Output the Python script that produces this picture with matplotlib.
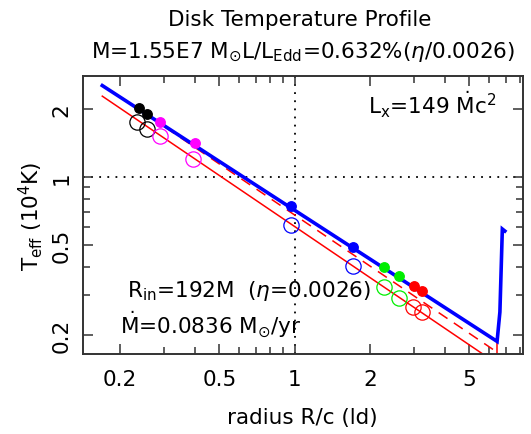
import numpy as np
import matplotlib
matplotlib.use("Agg")
import matplotlib.pyplot as plt
from matplotlib.ticker import FixedLocator, NullFormatter

# model curve (blue)
blue_r = [0.170, 1.0, 6.45, 6.62, 6.77, 6.93]
blue_t = [2.54, 0.713, 0.1875, 0.253, 0.589, 0.577]

# red reference lines
red_r = [0.170, 5.65]
red_t = [2.28, 0.165]
red_dash_r = [0.20, 6.45]
red_dash_t = [2.27, 0.168]
red_drop_r = [6.47, 6.47]
red_drop_t = [0.1875, 0.15]

# filled points on the blue curve and open circles below
pt_r = [0.239, 0.257, 0.290, 0.399, 0.966, 1.71, 2.27, 2.62, 3.01, 3.22]
pt_t = [2.03, 1.91, 1.76, 1.41, 0.746, 0.492, 0.401, 0.364, 0.330, 0.312]
open_r = [0.233, 0.257, 0.290, 0.393, 0.966, 1.71, 2.28, 2.62, 2.98, 3.22]
open_t = [1.76, 1.63, 1.52, 1.20, 0.615, 0.404, 0.327, 0.292, 0.265, 0.252]
pt_col = ["black", "black", "magenta", "magenta", "blue", "blue",
          "#00ee00", "#00ee00", "red", "red"]

xmaj = [0.2, 0.5, 1, 2, 5]
xmaj_lab = ["0.2", "0.5", "1", "2", "5"]
ymaj = [0.2, 0.5, 1, 2]
ymaj_lab = ["0.2", "0.5", "1", "2"]

plt.rcParams['font.family'] = ['DejaVu Sans']
plt.rcParams['mathtext.fontset'] = 'dejavusans'
fs = 15.5

fig = plt.figure(figsize=(5.31, 4.35), dpi=100)
ax = fig.add_axes([0.1557, 0.184, 0.829, 0.639])
ax.set_xscale('log')
ax.set_yscale('log')
ax.set_xlim(0.1419, 8.18)
ax.set_ylim(0.165, 2.80)

ax.axhline(1, color='black', lw=1.3, ls=(0, (1, 3.5)), zorder=1)
ax.axvline(1, color='black', lw=1.3, ls=(0, (1, 3.5)), zorder=1)

ax.plot(red_r, red_t, color='red', lw=1.1, zorder=2)
ax.plot(red_dash_r, red_dash_t, color='red', lw=1.1, ls=(0, (7, 5)), zorder=2)
ax.plot(red_drop_r, red_drop_t, color='red', lw=1.1, zorder=2)
ax.plot(blue_r, blue_t, color='blue', lw=2.6, zorder=3, solid_joinstyle='miter')

for r, t, c in zip(pt_r, pt_t, pt_col):
    ax.plot(r, t, 'o', color=c, ms=6.8, zorder=4)
for r, t, c in zip(open_r, open_t, pt_col):
    ax.plot(r, t, 'o', mfc='none', mec=c, mew=0.9, ms=11, zorder=4)

ax.xaxis.set_major_locator(FixedLocator(xmaj))
ax.set_xticklabels(xmaj_lab)
ax.xaxis.set_minor_locator(FixedLocator([0.3, 0.4, 0.6, 0.7, 0.8, 0.9, 3, 4, 6, 7, 8]))
ax.xaxis.set_minor_formatter(NullFormatter())
ax.yaxis.set_major_locator(FixedLocator(ymaj))
ax.set_yticklabels(ymaj_lab, rotation=90, va='center')
ax.yaxis.set_minor_locator(FixedLocator([0.3, 0.4, 0.6, 0.7, 0.8, 0.9]))
ax.yaxis.set_minor_formatter(NullFormatter())

ax.tick_params(which='both', direction='in', top=True, right=True,
               labelsize=fs, width=1.1, color='#333333')
ax.tick_params(which='major', length=7)
ax.tick_params(which='minor', length=5)
ax.tick_params(axis='x', pad=11)
ax.tick_params(axis='y', pad=8)
for s in ax.spines.values():
    s.set_linewidth(1.4)
    s.set_color('#333333')

ax.set_xlabel('radius R/c (ld)', fontsize=fs, labelpad=13)
ax.set_ylabel(r'T$_{\rm eff}$ (10$^4$K)', fontsize=fs, labelpad=5)

fig.text(0.565, 0.955, 'Disk Temperature Profile', fontsize=fs, ha='center', va='center')
fig.text(0.57, 0.88, r'M=1.55E7 M$_{\odot}$L/L$_{\rm Edd}$=0.632%($\eta$/0.0026)',
         fontsize=fs, ha='center', va='center')

ax.text(0.94, 0.9, r'L$_{\rm x}$=149 $\dot{\rm M}$c$^2$', transform=ax.transAxes,
        fontsize=fs, ha='right', va='center')
ax.text(0.10, 0.23, r'R$_{\rm in}$=192M  ($\eta$=0.0026)', transform=ax.transAxes,
        fontsize=fs, ha='left', va='center')
ax.text(0.085, 0.11, r'$\dot{\rm M}$=0.0836 M$_{\odot}$/yr', transform=ax.transAxes,
        fontsize=fs, ha='left', va='center')

fig.savefig('out.png', dpi=100)
